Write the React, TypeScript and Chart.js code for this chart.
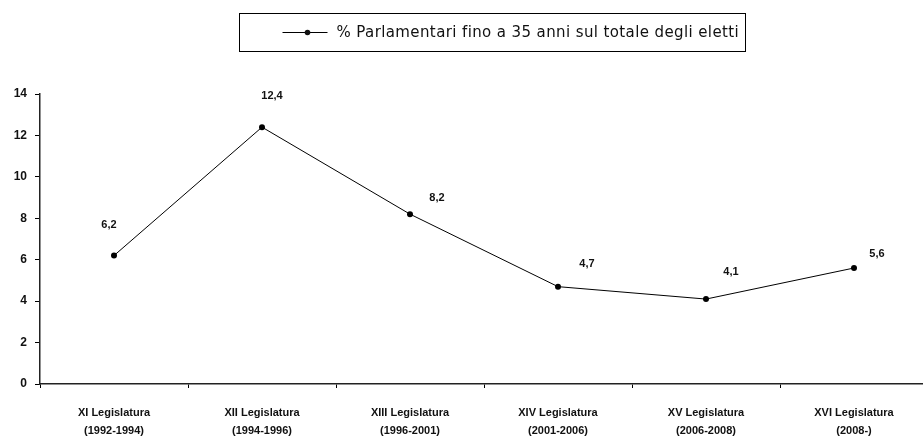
import React, { useEffect, useRef } from "react";
import { Chart, registerables } from "chart.js";

Chart.register(...registerables);

const categories: string[][] = [
  ["XI Legislatura", "(1992-1994)"],
  ["XII Legislatura", "(1994-1996)"],
  ["XIII Legislatura", "(1996-2001)"],
  ["XIV Legislatura", "(2001-2006)"],
  ["XV Legislatura", "(2006-2008)"],
  ["XVI Legislatura", "(2008-)"],
];
const seriesName = "% Parlamentari fino a 35 anni sul totale degli eletti";
const values: number[] = [6.2, 12.4, 8.2, 4.7, 4.1, 5.6];
const valueLabels: string[] = ["6,2", "12,4", "8,2", "4,7", "4,1", "5,6"];
const yTicks = { min: 0, max: 14, step: 2 };

// label placement offsets (styling only), in px relative to each point
const labelOffsets: [number, number][] = [
  [-5, -31],
  [10, -31],
  [27, -16],
  [29, -23],
  [25, -27],
  [23, -14],
];

const FONT = "'Liberation Sans', Arial, sans-serif";
const LEGEND_FONT = "'DejaVu Sans', Verdana, sans-serif";

const overlayPlugin = {
  id: "overlay",
  afterDatasetsDraw(chart: any) {
    const ctx = chart.ctx;
    const meta = chart.getDatasetMeta(0);
    ctx.save();
    ctx.fillStyle = "#111";
    ctx.font = `bold 11px ${FONT}`;
    ctx.textAlign = "center";
    ctx.textBaseline = "middle";
    meta.data.forEach((pt: any, i: number) => {
      const [dx, dy] = labelOffsets[i];
      ctx.fillText(valueLabels[i], pt.x + dx, pt.y + dy);
    });
    // legend box
    const ca = chart.chartArea;
    const cx = (ca.left + ca.right) / 2 + 8;
    const boxW = 506;
    const left = Math.round(cx - boxW / 2) + 0.5;
    const top = 13.5;
    const h = 38;
    ctx.strokeStyle = "#000";
    ctx.lineWidth = 1;
    ctx.strokeRect(left, top, boxW, h);
    const midY = top + h / 2;
    ctx.beginPath();
    ctx.moveTo(left + 43, midY);
    ctx.lineTo(left + 88, midY);
    ctx.stroke();
    ctx.beginPath();
    ctx.arc(left + 68, midY, 2.8, 0, Math.PI * 2);
    ctx.fill();
    ctx.font = `15px ${LEGEND_FONT}`;
    const natural = ctx.measureText(seriesName).width;
    const targetW = 402;
    const spacing = Math.max(0, (targetW - natural) / (seriesName.length - 1));
    (ctx as any).letterSpacing = `${spacing.toFixed(2)}px`;
    ctx.textAlign = "left";
    ctx.fillText(seriesName, left + 97, midY + 1);
    ctx.restore();
  },
};

export default function App() {
  const ref = useRef<HTMLCanvasElement | null>(null);
  useEffect(() => {
    document.body.style.margin = "0";
    const chart = new Chart(ref.current as HTMLCanvasElement, {
      type: "line",
      data: {
        labels: categories,
        datasets: [
          {
            label: seriesName,
            data: values,
            borderColor: "#000",
            backgroundColor: "#000",
            borderWidth: 1,
            pointRadius: 3,
            pointBackgroundColor: "#000",
            pointBorderWidth: 0,
            tension: 0,
          },
        ],
      },
      options: {
        responsive: false,
        animation: false,
        layout: { padding: { top: 94, right: 7, left: 0, bottom: 0 } },
        plugins: {
          legend: { display: false },
          tooltip: { enabled: false },
          title: { display: false },
        },
        scales: {
          x: {
            offset: true,
            grid: {
              display: true,
              offset: true,
              drawOnChartArea: false,
              tickLength: 4,
              color: "#000",
            },
            border: { display: true, color: "#222", width: 1.5 },
            ticks: {
              color: "#111",
              font: { family: FONT, size: 11, weight: "bold", lineHeight: 1.64 },
              padding: 16,
              maxRotation: 0,
              autoSkip: false,
            },
            afterFit(scale: any) {
              scale.height = 53;
            },
          },
          y: {
            min: yTicks.min,
            max: yTicks.max,
            grid: {
              display: true,
              drawOnChartArea: false,
              tickLength: 5,
              color: "#000",
            },
            border: { display: true, color: "#222", width: 1.5 },
            ticks: {
              stepSize: yTicks.step,
              color: "#111",
              font: { family: FONT, size: 12, weight: "bold" },
              padding: 8,
            },
            afterFit(scale: any) {
              scale.width = 40;
            },
          },
        },
      },
      plugins: [overlayPlugin],
    });
    return () => chart.destroy();
  }, []);
  return (
    <div style={{ width: 923, height: 437, overflow: "hidden", background: "#fff" }}>
      <canvas ref={ref} width={935} height={437} style={{ display: "block" }} />
    </div>
  );
}
